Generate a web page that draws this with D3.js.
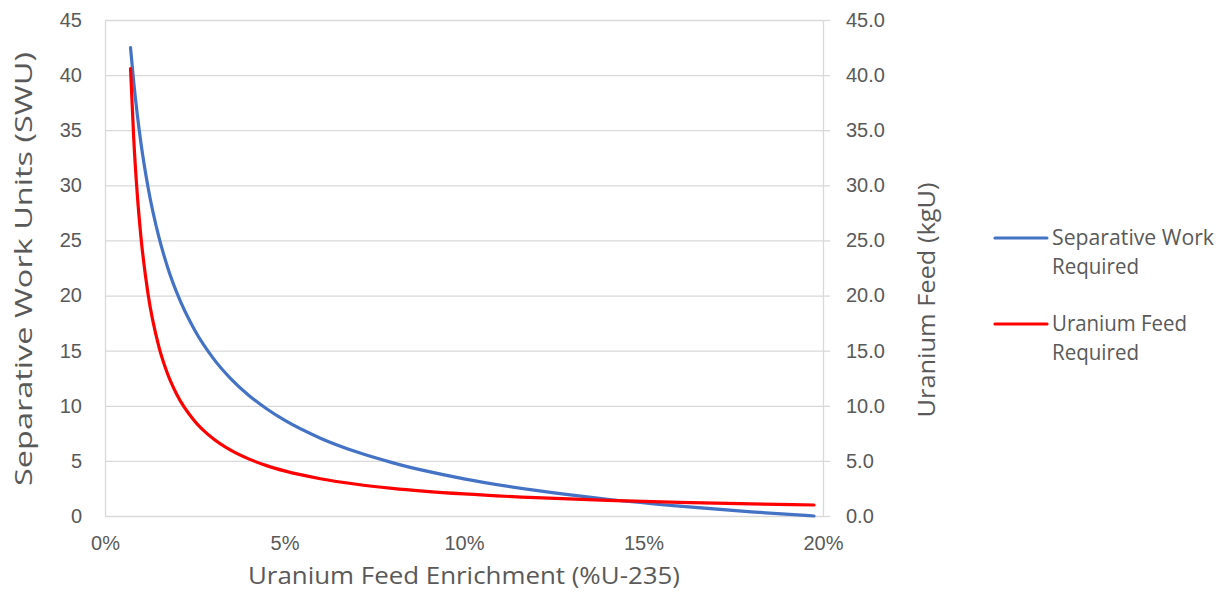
<!DOCTYPE html>
<html>
<head>
<meta charset="utf-8">
<script src="https://cdn.jsdelivr.net/npm/d3@7/dist/d3.min.js"></script>
<style>
  html, body { margin: 0; padding: 0; background: #fff; }
  svg { display: block; font-family: "Open Sans", Lato, sans-serif; }
</style>
</head>
<body>
<svg id="chart" width="1223" height="592"></svg>
<script>
// Enrichment of feed material (% U-235)
const enrichment = [0.711, 0.8, 0.9, 1.0, 1.2, 1.5, 1.75, 2.0, 2.5, 3.0, 3.5, 4.0, 4.5, 5.0, 6.0, 7.0, 8.0, 10.0, 12.0, 14.0, 16.0, 18.0, 19.75];
// Separative work required (SWU) — left axis
const swuValues = [42.5, 39.36, 36.4, 33.87, 29.81, 25.32, 22.51, 20.26, 16.85, 14.37, 12.47, 10.96, 9.73, 8.69, 7.06, 5.82, 4.84, 3.37, 2.32, 1.52, 0.89, 0.38, 0.0];
// Uranium feed required (kgU) — right axis
const feedValues = [40.6, 34.25, 29.13, 25.35, 20.12, 15.37, 12.84, 11.03, 8.6, 7.05, 5.97, 5.18, 4.57, 4.09, 3.38, 2.88, 2.51, 2.0, 1.66, 1.42, 1.24, 1.1, 1.0];

const xTicks = [0, 5, 10, 15, 20];
const leftTicks = [0, 5, 10, 15, 20, 25, 30, 35, 40, 45];
const rightTicks = [0, 5, 10, 15, 20, 25, 30, 35, 40, 45];

const seriesNames = ["Separative Work Required", "Uranium Feed Required"];
const xTitle = "Uranium Feed Enrichment (%U-235)";
const leftTitle = "Separative Work Units (SWU)";
const rightTitle = "Uranium Feed (kgU)";

const svg = d3.select("#chart");
const L = 105, R = 823, T = 20, B = 516;
const textColor = "#595959", gridColor = "#D9D9D9";
const blue = "#4472C4", red = "#FF0000";

const x = d3.scaleLinear().domain([0, 20]).range([L, R]);
const yL = d3.scaleLinear().domain([0, 45]).range([B, T]);
const yR = d3.scaleLinear().domain([0, 45]).range([B, T]);

// gridlines
svg.append("g").selectAll("line").data(leftTicks).join("line")
  .attr("x1", L).attr("x2", R)
  .attr("y1", d => yL(d) + 0.5).attr("y2", d => yL(d) + 0.5)
  .attr("stroke", gridColor).attr("stroke-width", 1.3);

// left axis line
svg.append("line").attr("x1", L + 0.5).attr("x2", L + 0.5).attr("y1", T).attr("y2", B)
  .attr("stroke", gridColor).attr("stroke-width", 1.3);

// right axis
const rAxis = d3.axisRight(yR).tickValues(rightTicks).tickSize(7).tickPadding(16)
  .tickFormat(d3.format(".1f"));
const rg = svg.append("g").attr("transform", `translate(${R},0)`).call(rAxis);
rg.select(".domain").attr("stroke", gridColor).attr("stroke-width", 1.3).attr("d", `M0.5,${T}V${B}`);
rg.selectAll(".tick line").attr("stroke", gridColor).attr("stroke-width", 1.3);
rg.selectAll(".tick text").attr("fill", textColor).style("font-size", "20px").attr("font-family", null);

// left axis
const lAxis = d3.axisLeft(yL).tickValues(leftTicks).tickSize(0).tickPadding(23);
const lg = svg.append("g").attr("transform", `translate(${L},0)`).call(lAxis);
lg.select(".domain").remove();
lg.selectAll(".tick text").attr("fill", textColor).style("font-size", "20px").attr("font-family", null);

// bottom axis
const bAxis = d3.axisBottom(x).tickValues(xTicks).tickSize(0).tickPadding(20)
  .tickFormat(d => d + "%");
const bg = svg.append("g").attr("transform", `translate(0,${B})`).call(bAxis);
bg.select(".domain").remove();
bg.selectAll(".tick text").attr("fill", textColor).style("font-size", "20px").attr("font-family", null);

// lines
const swuData = enrichment.map((e, i) => [e, swuValues[i]]);
const feedData = enrichment.map((e, i) => [e, feedValues[i]]);
const lineL = d3.line().x(d => x(d[0])).y(d => yL(d[1])).curve(d3.curveMonotoneX);
const lineR = d3.line().x(d => x(d[0])).y(d => yR(d[1])).curve(d3.curveMonotoneX);
svg.append("path").datum(swuData).attr("d", lineL)
  .attr("fill", "none").attr("stroke", blue).attr("stroke-width", 3.2).attr("stroke-linecap", "round");
svg.append("path").datum(feedData).attr("d", lineR)
  .attr("fill", "none").attr("stroke", red).attr("stroke-width", 3.2).attr("stroke-linecap", "round");

// axis titles
svg.append("text").attr("x", (L + R) / 2).attr("y", 584).attr("text-anchor", "middle")
  .attr("fill", textColor).style("font-size", "23.5px")
  .attr("textLength", 432).attr("lengthAdjust", "spacingAndGlyphs").text(xTitle);
svg.append("text").attr("transform", `translate(32,${(T + B) / 2 + 1}) rotate(-90)`)
  .attr("text-anchor", "middle").attr("fill", textColor).style("font-size", "23.5px")
  .attr("textLength", 434).attr("lengthAdjust", "spacingAndGlyphs").text(leftTitle);
svg.append("text").attr("transform", `translate(935,300) rotate(-90)`)
  .attr("text-anchor", "middle").attr("fill", textColor).style("font-size", "23.5px")
  .attr("textLength", 235).attr("lengthAdjust", "spacingAndGlyphs").text(rightTitle);

// legend
const legend = [
  { color: blue, lines: ["Separative Work", "Required"], widths: [162, 87], y: 238 },
  { color: red, lines: ["Uranium Feed", "Required"], widths: [135, 87], y: 324 }
];
legend.forEach((item, i) => {
  const g = svg.append("g").attr("data-name", seriesNames[i]);
  g.append("line").attr("x1", 995).attr("x2", 1047).attr("y1", item.y).attr("y2", item.y)
    .attr("stroke", item.color).attr("stroke-width", 3.2).attr("stroke-linecap", "round");
  item.lines.forEach((ln, j) => {
    g.append("text").attr("x", 1052).attr("y", item.y + 7 + j * 29).attr("fill", textColor)
      .style("font-size", "21px")
      .attr("textLength", item.widths[j]).attr("lengthAdjust", "spacingAndGlyphs").text(ln);
  });
});
</script>
</body>
</html>
